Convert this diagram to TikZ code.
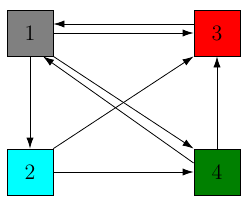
\documentclass[tikz,border=0pt]{standalone}
\usepackage{tikz}
\usetikzlibrary{arrows.meta}
\definecolor{darkgreen}{RGB}{0,128,0}
\definecolor{purecyan}{RGB}{0,255,255}

\begin{document}
\begin{tikzpicture}[
    state/.style={
        draw, minimum size=23pt, inner sep=0pt,
        font=\fontsize{11}{13}\selectfont
    },
    edge/.style={-{Latex[length=5.5pt,width=3.6pt]}},
x=1pt, y=1pt]

    \useasboundingbox (0,0) rectangle (123,100);

    \node[state, fill=gray] (n1) at (15,83.5) {1};
    \node[state, fill=purecyan] (n2) at (15,14) {2};
    \node[state, fill=red] (n3) at (108.5,83.5) {3};
    \node[state, fill=darkgreen] (n4) at (108.5,14) {4};

    \draw[edge] ([yshift=4.5pt]n3.west) -- ([yshift=4.5pt]n1.east);
    \draw[edge] (n1) -- (n3);
    \draw[edge] (n1) -- (n2);
    \draw[edge] (n2) -- (n4);
    \draw[edge] (n4) -- (n3);
    \draw[edge] (n2.north east) -- (n3.south west);
    \draw[edge] (n1.south east) -- (n4.north west);
    \draw[edge] ([yshift=4.5pt]n4.west) -- ([xshift=6.5pt]n1.south);

\end{tikzpicture}
\end{document}
